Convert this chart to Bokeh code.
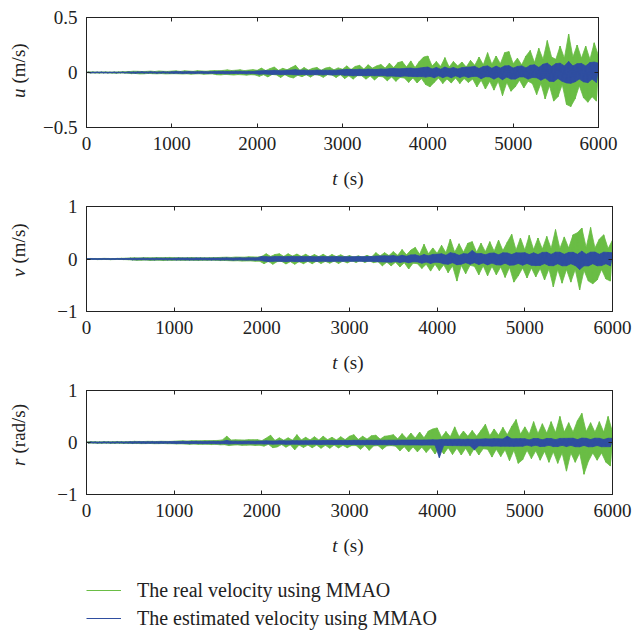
import math
import numpy as np
from bokeh.plotting import figure
from bokeh.models import (Range1d, Label, FixedTicker, Legend, LegendItem,
                          LinearAxis, CustomJSTickFormatter, CustomLabelingPolicy)
from bokeh.layouts import column, row
from bokeh.embed import file_html
from bokeh.resources import INLINE

# ---------------- data ----------------
t = list(range(0, 6001, 25))  # time samples (s)

u_real = [
    0.0, 0.004, -0.003, 0.005, -0.004, 0.003, -0.005, 0.004, -0.003, 0.005, -0.004, 0.003, -0.005, 0.004, -0.006, 0.005, -0.004, 0.007, -0.005, 0.006,
    0.008, -0.01, 0.012, -0.009, 0.011, -0.013, 0.009, -0.012, 0.01, -0.008, 0.013, -0.011, 0.009, -0.012, 0.014, -0.01, 0.011, -0.013, 0.01, -0.012,
    0.013, -0.011, 0.015, -0.012, 0.01, -0.014, 0.016, -0.012, 0.013, -0.015, 0.011, -0.013, 0.017, -0.012, 0.014, -0.016, 0.012, -0.014, 0.015, -0.013,
    0.018, -0.02, 0.016, -0.022, 0.019, -0.017, 0.024, -0.02, 0.018, -0.023, 0.021, -0.019, 0.025, -0.021, 0.017, -0.024, 0.022, -0.02, 0.026, -0.022,
    0.02, -0.035, 0.04, -0.02, 0.018, -0.04, 0.035, -0.018, 0.05, -0.022, 0.02, -0.045, 0.038, -0.02, 0.025, -0.04, 0.045, -0.05, 0.065, -0.025,
    0.02, -0.038, 0.045, -0.02, 0.022, -0.042, 0.038, -0.018, 0.046, -0.025, 0.02, -0.044, 0.04, -0.02, 0.048, -0.022, 0.025, -0.045, 0.042, -0.02,
    0.03, -0.055, 0.06, -0.03, 0.028, -0.06, 0.055, -0.028, 0.065, -0.03, 0.032, -0.06, 0.07, -0.032, 0.04, -0.068, 0.06, -0.035, 0.072, -0.04,
    0.04, -0.075, 0.085, -0.04, 0.045, -0.08, 0.09, -0.045, 0.1, -0.05, 0.05, -0.09, 0.105, -0.05, 0.045, -0.095, 0.1, -0.055, 0.14, -0.11,
    0.15, -0.13, 0.06, -0.09, 0.1, -0.05, 0.055, -0.1, 0.135, -0.06, 0.05, -0.095, 0.1, -0.05, 0.06, -0.1, 0.095, -0.055, 0.05, -0.09,
    0.11, -0.06, 0.065, -0.13, 0.14, -0.07, 0.07, -0.15, 0.18, -0.08, 0.075, -0.16, 0.15, -0.08, 0.08, -0.21, 0.18, -0.09, 0.19, -0.17,
    0.08, -0.13, 0.13, -0.07, 0.07, -0.14, 0.15, -0.08, 0.2, -0.1, 0.09, -0.2, 0.22, -0.1, 0.12, -0.24, 0.29, -0.12, 0.14, -0.26,
    0.12, -0.22, 0.24, -0.11, 0.13, -0.29, 0.35, -0.31, 0.14, -0.24, 0.25, -0.12, 0.13, -0.23, 0.24, -0.27, 0.12, -0.22, 0.27, -0.26,
    0.15,
]

u_est = [
    0.0, 0.002, -0.003, 0.002, -0.002, 0.003, -0.002, 0.003, -0.003, 0.002, -0.003, 0.002, -0.002, 0.003, -0.003, 0.002, -0.002, 0.003, -0.003, 0.002,
    0.004, -0.005, 0.004, -0.006, 0.005, -0.004, 0.006, -0.005, 0.004, -0.005, 0.006, -0.004, 0.005, -0.006, 0.004, -0.005, 0.006, -0.005, 0.004, -0.006,
    0.006, -0.007, 0.008, -0.006, 0.007, -0.008, 0.006, -0.007, 0.008, -0.007, 0.006, -0.008, 0.007, -0.006, 0.008, -0.007, 0.006, -0.008, 0.007, -0.006,
    0.009, -0.01, 0.011, -0.009, 0.01, -0.012, 0.009, -0.011, 0.01, -0.009, 0.012, -0.01, 0.011, -0.009, 0.01, -0.012, 0.011, -0.01, 0.009, -0.011,
    0.014, -0.016, 0.015, -0.013, 0.018, -0.015, 0.016, -0.018, 0.02, -0.016, 0.017, -0.019, 0.016, -0.018, 0.02, -0.017, 0.022, -0.02, 0.025, -0.022,
    0.02, -0.018, 0.022, -0.02, 0.019, -0.021, 0.018, -0.02, 0.022, -0.019, 0.02, -0.022, 0.021, -0.018, 0.02, -0.023, 0.019, -0.021, 0.022, -0.02,
    0.024, -0.026, 0.028, -0.025, 0.027, -0.03, 0.026, -0.028, 0.03, -0.027, 0.025, -0.029, 0.031, -0.027, 0.028, -0.03, 0.027, -0.029, 0.032, -0.028,
    0.03, -0.033, 0.035, -0.032, 0.036, -0.034, 0.033, -0.037, 0.035, -0.032, 0.038, -0.035, 0.04, -0.036, 0.034, -0.038, 0.04, -0.037, 0.045, -0.042,
    0.05, -0.035, 0.032, -0.048, 0.046, -0.03, 0.03, -0.047, 0.05, -0.032, 0.034, -0.048, 0.045, -0.03, 0.032, -0.045, 0.044, -0.032, 0.048, -0.045,
    0.05, -0.036, 0.055, -0.035, 0.036, -0.056, 0.054, -0.038, 0.06, -0.04, 0.038, -0.06, 0.058, -0.04, 0.04, -0.065, 0.06, -0.042, 0.062, -0.06,
    0.04, -0.06, 0.055, -0.04, 0.06, -0.04, 0.042, -0.06, 0.065, -0.045, 0.07, -0.048, 0.046, -0.07, 0.075, -0.05, 0.085, -0.08, 0.055, -0.082,
    0.08, -0.055, 0.085, -0.08, 0.06, -0.095, 0.1, -0.098, 0.06, -0.085, 0.08, -0.06, 0.082, -0.085, 0.06, -0.092, 0.09, -0.06, 0.095, -0.09,
    0.085,
]

v_real = [
    0.005, -0.008, 0.01, -0.007, 0.009, -0.011, 0.008, -0.01, 0.012, -0.009, 0.01, -0.012, 0.008, -0.01, 0.011, -0.009, 0.013, -0.011, 0.015, -0.014,
    0.02, -0.018, 0.022, -0.025, 0.02, -0.023, 0.026, -0.02, 0.024, -0.027, 0.022, -0.025, 0.028, -0.022, 0.025, -0.03, 0.027, -0.024, 0.03, -0.026,
    0.024, -0.022, 0.027, -0.025, 0.022, -0.026, 0.025, -0.023, 0.028, -0.025, 0.023, -0.027, 0.026, -0.024, 0.022, -0.026, 0.025, -0.022, 0.027, -0.025,
    0.028, -0.03, 0.032, -0.028, 0.035, -0.032, 0.03, -0.036, 0.038, -0.033, 0.036, -0.04, 0.035, -0.038, 0.042, -0.037, 0.04, -0.043, 0.038, -0.042,
    0.05, -0.09, 0.1, -0.045, 0.05, -0.1, 0.085, -0.05, 0.1, -0.045, 0.05, -0.095, 0.1, -0.05, 0.055, -0.1, 0.095, -0.05, 0.05, -0.09,
    0.09, -0.045, 0.045, -0.09, 0.085, -0.04, 0.045, -0.085, 0.09, -0.045, 0.04, -0.08, 0.085, -0.04, 0.045, -0.085, 0.08, -0.04, 0.04, -0.075,
    0.065, -0.035, 0.035, -0.065, 0.06, -0.03, 0.035, -0.065, 0.07, -0.035, 0.035, -0.07, 0.12, -0.05, 0.06, -0.13, 0.12, -0.06, 0.065, -0.13,
    0.14, -0.06, 0.07, -0.15, 0.18, -0.07, 0.08, -0.19, 0.17, -0.08, 0.22, -0.09, 0.09, -0.18, 0.28, -0.1, 0.1, -0.23, 0.21, -0.1,
    0.11, -0.22, 0.26, -0.11, 0.12, -0.26, 0.38, -0.13, 0.13, -0.42, 0.29, -0.12, 0.13, -0.28, 0.3, -0.12, 0.33, -0.14, 0.13, -0.3,
    0.3, -0.13, 0.14, -0.32, 0.33, -0.14, 0.15, -0.3, 0.36, -0.15, 0.16, -0.35, 0.32, -0.16, 0.47, -0.44, 0.17, -0.32, 0.4, -0.17,
    0.17, -0.36, 0.45, -0.17, 0.18, -0.34, 0.4, -0.18, 0.19, -0.4, 0.43, -0.19, 0.2, -0.53, 0.56, -0.2, 0.2, -0.46, 0.42, -0.2,
    0.21, -0.44, 0.46, -0.2, 0.5, -0.59, 0.59, -0.22, 0.22, -0.42, 0.6, -0.47, 0.21, -0.4, 0.38, -0.2, 0.46, -0.38, 0.2, -0.42,
    0.36,
]

v_est = [
    0.004, -0.006, 0.008, -0.006, 0.007, -0.008, 0.006, -0.007, 0.008, -0.006, 0.007, -0.008, 0.006, -0.007, 0.009, -0.007, 0.008, -0.009, 0.01, -0.008,
    0.012, -0.014, 0.013, -0.015, 0.014, -0.012, 0.016, -0.014, 0.013, -0.015, 0.014, -0.016, 0.015, -0.013, 0.016, -0.014, 0.015, -0.016, 0.014, -0.015,
    0.016, -0.018, 0.017, -0.016, 0.019, -0.017, 0.018, -0.019, 0.016, -0.018, 0.02, -0.017, 0.018, -0.016, 0.019, -0.018, 0.017, -0.019, 0.018, -0.017,
    0.019, -0.021, 0.02, -0.018, 0.022, -0.02, 0.019, -0.022, 0.021, -0.02, 0.023, -0.021, 0.02, -0.022, 0.024, -0.021, 0.022, -0.024, 0.023, -0.022,
    0.05, -0.04, 0.045, -0.05, 0.04, -0.045, 0.05, -0.042, 0.048, -0.045, 0.043, -0.05, 0.046, -0.044, 0.05, -0.047, 0.045, -0.05, 0.048, -0.046,
    0.045, -0.043, 0.047, -0.045, 0.042, -0.046, 0.044, -0.042, 0.046, -0.044, 0.043, -0.047, 0.045, -0.043, 0.046, -0.044, 0.042, -0.045, 0.044, -0.042,
    0.043, -0.045, 0.044, -0.042, 0.046, -0.044, 0.045, -0.047, 0.046, -0.045, 0.048, -0.046, 0.055, -0.052, 0.058, -0.055, 0.06, -0.058, 0.057, -0.06,
    0.065, -0.048, 0.05, -0.066, 0.072, -0.05, 0.052, -0.072, 0.078, -0.052, 0.08, -0.055, 0.055, -0.08, 0.085, -0.058, 0.06, -0.085, 0.088, -0.06,
    0.09, -0.065, 0.1, -0.092, 0.07, -0.1, 0.12, -0.07, 0.105, -0.11, 0.07, -0.098, 0.102, -0.07, 0.095, -0.1, 0.16, -0.07, 0.1, -0.105,
    0.105, -0.075, 0.08, -0.112, 0.11, -0.078, 0.115, -0.11, 0.08, -0.115, 0.118, -0.08, 0.115, -0.118, 0.085, -0.115, 0.118, -0.085, 0.115, -0.118,
    0.12, -0.085, 0.085, -0.12, 0.118, -0.125, 0.085, -0.122, 0.125, -0.088, 0.128, -0.125, 0.088, -0.128, 0.13, -0.09, 0.128, -0.13, 0.09, -0.128,
    0.125, -0.09, 0.128, -0.125, 0.09, -0.2, 0.15, -0.13, 0.09, -0.132, 0.13, -0.09, 0.132, -0.13, 0.09, -0.125, 0.13, -0.09, 0.125, -0.13,
    0.12,
]

r_real = [
    0.01, -0.012, 0.015, -0.01, 0.013, -0.015, 0.012, -0.014, 0.016, -0.012, 0.014, -0.016, 0.013, -0.015, 0.017, -0.013, 0.015, -0.017, 0.014, -0.016,
    0.018, -0.02, 0.022, -0.018, 0.02, -0.022, 0.019, -0.021, 0.023, -0.019, 0.021, -0.023, 0.02, -0.022, 0.024, -0.02, 0.022, -0.024, 0.021, -0.023,
    0.025, -0.028, 0.03, -0.026, 0.032, -0.03, 0.028, -0.034, 0.035, -0.03, 0.033, -0.036, 0.032, -0.034, 0.038, -0.033, 0.036, -0.04, 0.037, -0.035,
    0.04, -0.045, 0.05, -0.042, 0.12, -0.06, 0.048, -0.05, 0.052, -0.046, 0.05, -0.055, 0.048, -0.052, 0.055, -0.05, 0.053, -0.057, 0.055, -0.052,
    0.035, -0.07, 0.085, -0.035, 0.14, -0.1, 0.04, -0.085, 0.09, -0.04, 0.045, -0.09, 0.09, -0.045, 0.045, -0.14, 0.15, -0.05, 0.05, -0.095,
    0.1, -0.05, 0.05, -0.1, 0.11, -0.05, 0.05, -0.11, 0.12, -0.055, 0.055, -0.11, 0.1, -0.05, 0.05, -0.105, 0.11, -0.055, 0.055, -0.1,
    0.12, -0.06, 0.15, -0.06, 0.06, -0.13, 0.12, -0.06, 0.065, -0.15, 0.13, -0.065, 0.14, -0.06, 0.065, -0.13, 0.12, -0.065, 0.13, -0.06,
    0.15, -0.07, 0.07, -0.16, 0.17, -0.08, 0.08, -0.18, 0.18, -0.085, 0.085, -0.18, 0.2, -0.09, 0.09, -0.19, 0.22, -0.1, 0.26, -0.22,
    0.28, -0.1, 0.1, -0.22, 0.21, -0.1, 0.11, -0.23, 0.3, -0.11, 0.11, -0.24, 0.22, -0.11, 0.12, -0.25, 0.23, -0.11, 0.12, -0.24,
    0.23, -0.12, 0.35, -0.13, 0.13, -0.28, 0.26, -0.13, 0.14, -0.27, 0.29, -0.14, 0.15, -0.35, 0.31, -0.15, 0.44, -0.4, 0.16, -0.33,
    0.3, -0.15, 0.16, -0.31, 0.4, -0.16, 0.17, -0.34, 0.36, -0.17, 0.18, -0.38, 0.4, -0.18, 0.19, -0.4, 0.5, -0.2, 0.2, -0.55,
    0.38, -0.2, 0.2, -0.38, 0.42, -0.2, 0.56, -0.61, 0.21, -0.36, 0.38, -0.2, 0.2, -0.34, 0.4, -0.2, 0.2, -0.38, 0.5, -0.45,
    0.2,
]

r_est = [
    0.005, -0.008, 0.01, -0.007, 0.009, -0.01, 0.008, -0.009, 0.011, -0.008, 0.01, -0.011, 0.009, -0.01, 0.012, -0.009, 0.011, -0.012, 0.01, -0.011,
    0.013, -0.015, 0.014, -0.012, 0.016, -0.014, 0.015, -0.016, 0.014, -0.013, 0.016, -0.015, 0.014, -0.016, 0.017, -0.015, 0.016, -0.014, 0.017, -0.016,
    0.018, -0.02, 0.019, -0.017, 0.021, -0.019, 0.02, -0.022, 0.019, -0.021, 0.022, -0.02, 0.021, -0.023, 0.02, -0.022, 0.023, -0.021, 0.022, -0.024,
    0.022, -0.025, 0.024, -0.022, 0.04, -0.03, 0.025, -0.024, 0.026, -0.025, 0.024, -0.027, 0.026, -0.025, 0.027, -0.026, 0.025, -0.028, 0.027, -0.026,
    0.028, -0.03, 0.032, -0.028, 0.03, -0.032, 0.029, -0.031, 0.033, -0.03, 0.032, -0.034, 0.031, -0.033, 0.035, -0.032, 0.034, -0.036, 0.033, -0.035,
    0.034, -0.036, 0.035, -0.033, 0.037, -0.035, 0.036, -0.038, 0.037, -0.035, 0.038, -0.036, 0.037, -0.039, 0.038, -0.036, 0.039, -0.037, 0.04, -0.038,
    0.038, -0.04, 0.042, -0.039, 0.041, -0.043, 0.04, -0.042, 0.043, -0.04, 0.042, -0.044, 0.041, -0.043, 0.044, -0.042, 0.043, -0.045, 0.044, -0.043,
    0.044, -0.046, 0.045, -0.043, 0.047, -0.045, 0.046, -0.048, 0.047, -0.046, 0.049, -0.047, 0.048, -0.05, 0.049, -0.048, 0.05, -0.049, 0.052, -0.05,
    0.05, -0.29, 0.06, -0.055, 0.06, -0.058, 0.062, -0.06, 0.063, -0.06, 0.065, -0.062, 0.06, -0.064, 0.065, -0.062, 0.06, -0.14, 0.064, -0.062,
    0.065, -0.068, 0.07, -0.066, 0.068, -0.07, 0.072, -0.068, 0.07, -0.072, 0.068, -0.07, 0.12, -0.072, 0.07, -0.074, 0.072, -0.07, 0.074, -0.072,
    0.072, -0.05, 0.05, -0.072, 0.076, -0.052, 0.075, -0.077, 0.052, -0.074, 0.078, -0.053, 0.075, -0.078, 0.055, -0.077, 0.078, -0.055, 0.079, -0.078,
    0.08, -0.055, 0.082, -0.08, 0.056, -0.083, 0.085, -0.056, 0.08, -0.083, 0.058, -0.08, 0.083, -0.058, 0.08, -0.082, 0.058, -0.08, 0.082, -0.081,
    0.08,
]

x_ticks = [0, 1000, 2000, 3000, 4000, 5000, 6000]
u_ticks = [-0.5, 0, 0.5]
vr_ticks = [-1, 0, 1]
legend_labels = ["The real velocity using MMAO", "The estimated velocity using MMAO"]

# ---------------- style ----------------
GREEN = "#6abd45"
BLUE = "#2f4ea0"
INK = "#222222"
FONT = "Liberation Serif"
FS = "19px"
PAGE_W = 635
YLAB_W = 30          # strip holding the rotated y titles
PW = PAGE_W - YLAB_W  # plot figure width
BL, BR = 56, 20       # frame from x=86 to x=615 on the page
FH = 110              # frame height
BB = 31               # bottom border (tick labels)
XLAB_H = 32           # strip holding "t (s)"

minus_fmt = CustomJSTickFormatter(code="return tick < 0 ? '\\u2212' + String(-tick) : String(tick);")


def style_axis(ax, show_labels):
    ax.major_tick_in = 4
    ax.major_tick_out = 0
    ax.minor_tick_line_color = None
    ax.axis_line_color = INK
    ax.major_tick_line_color = INK
    ax.major_label_text_font = FONT
    ax.major_label_text_color = INK
    ax.major_label_text_font_size = FS
    ax.major_label_standoff = 9
    if not show_labels:
        ax.major_label_policy = CustomLabelingPolicy(code="return []")
        ax.major_label_standoff = 0


def blank(width, height):
    f = figure(width=width, height=height, output_backend="svg", toolbar_location=None,
               x_range=Range1d(0, 1), y_range=Range1d(0, 1),
               x_axis_type=None, y_axis_type=None, min_border=0)
    f.outline_line_color = None
    f.background_fill_color = "white"
    f.border_fill_color = "white"
    return f


def draw_signal(p, ys, color):
    """The dense oscillation: the area swept between its listed crests and troughs,
    plus the sampled line itself."""
    crest = [(x, y) for x, y in zip(t, ys) if y >= 0]
    trough = [(x, y) for x, y in zip(t, ys) if y < 0]
    px = [x for x, _ in crest] + [x for x, _ in reversed(trough)]
    py = [y for _, y in crest] + [y for _, y in reversed(trough)]
    p.patch(px, py, fill_color=color, line_color=color, line_width=0.8)
    p.line(t, ys, line_color=color, line_width=1.0)


def panel(real, est, y_lo, y_hi, yticks, var, unit, var_y, unit_y, top):
    h = top + FH + BB
    p = figure(width=PW, height=h, output_backend="svg", toolbar_location=None,
               x_range=Range1d(0, 6000), y_range=Range1d(y_lo, y_hi),
               x_axis_type=None, y_axis_type=None,
               min_border_left=BL, min_border_right=BR, min_border_top=top,
               min_border_bottom=BB)
    p.outline_line_color = INK
    p.background_fill_color = "white"
    p.border_fill_color = "white"
    draw_signal(p, real, GREEN)
    draw_signal(p, est, BLUE)

    for side, show in (("below", True), ("above", False)):
        ax = LinearAxis(ticker=FixedTicker(ticks=x_ticks))
        style_axis(ax, show)
        p.add_layout(ax, side)
    for side, show in (("left", True), ("right", False)):
        ax = LinearAxis(ticker=FixedTicker(ticks=yticks), formatter=minus_fmt)
        style_axis(ax, show)
        p.add_layout(ax, side)

    # rotated y title (its frame is aligned with the plot frame in the row)
    yl = blank(YLAB_W, h)
    yl.add_layout(Label(x=18, y=var_y, x_units="screen", y_units="screen", text=var,
                        angle=math.pi / 2, text_font=FONT, text_font_size=FS,
                        text_font_style="italic", text_align="right", text_baseline="middle",
                        text_color=INK))
    yl.add_layout(Label(x=18, y=unit_y, x_units="screen", y_units="screen", text=unit,
                        angle=math.pi / 2, text_font=FONT, text_font_size=FS,
                        text_align="left", text_baseline="middle", text_color=INK))

    # x title: italic "t" + upright "(s)"
    xl = blank(PAGE_W, XLAB_H)
    xl.add_layout(Label(x=337, y=12, x_units="screen", y_units="screen", text="t",
                        text_font=FONT, text_font_size=FS, text_font_style="italic",
                        text_align="right", text_baseline="middle", text_color=INK))
    xl.add_layout(Label(x=343, y=12, x_units="screen", y_units="screen", text="(s)",
                        text_font=FONT, text_font_size=FS,
                        text_align="left", text_baseline="middle", text_color=INK))
    return column(row(yl, p, spacing=0), xl, spacing=0)


blk1 = panel(u_real, u_est, -0.5, 0.5, u_ticks, "u", "(m/s)", 39, 44, top=17)
blk2 = panel(v_real, v_est, -1, 1, vr_ticks, "v", "(m/s)", 43, 48, top=11)
blk3 = panel(r_real, r_est, -1, 1, vr_ticks, "r", "(rad/s)", 36, 41, top=10)

# legend strip (sample lines carry no visible data)
leg = blank(PAGE_W, 74)
lg = leg.line(np.array([np.nan]), np.array([np.nan]), line_color=GREEN, line_width=1.2)
lb = leg.line(np.array([np.nan]), np.array([np.nan]), line_color=BLUE, line_width=1.2)
legend = Legend(items=[LegendItem(label=legend_labels[0], renderers=[lg]),
                       LegendItem(label=legend_labels[1], renderers=[lb])],
                location=(86, 1.5), orientation="vertical", padding=0, margin=0, spacing=5,
                glyph_width=35, glyph_height=22, label_height=22, label_standoff=16,
                label_text_font=FONT, label_text_font_size="20px", label_text_color=INK,
                border_line_alpha=0, background_fill_alpha=0)
leg.add_layout(legend)

layout = column(blk1, blk2, blk3, leg, spacing=0)
open("out.html", "w").write(file_html(layout, INLINE))
